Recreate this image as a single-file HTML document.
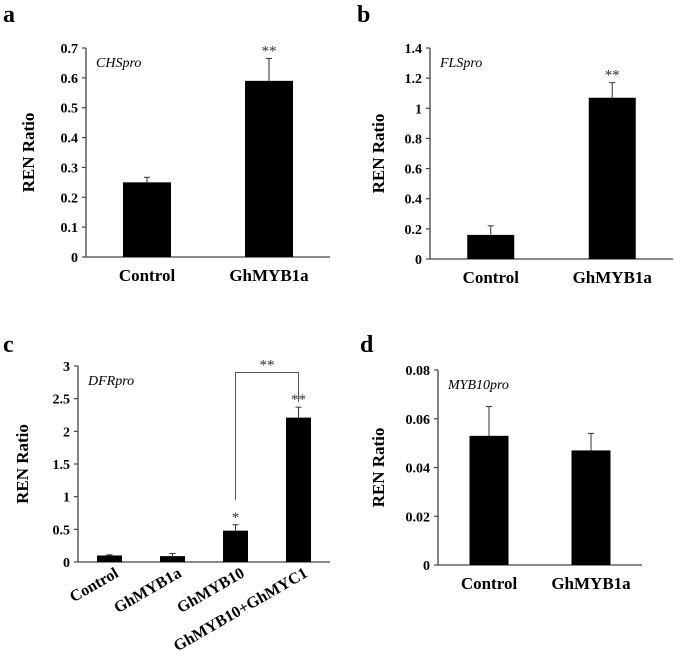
<!DOCTYPE html>
<html><head><meta charset="utf-8"><style>
body{margin:0;background:#fff}
svg, svg text{font-family:"Liberation Serif","Times New Roman",serif}
</style></head><body>
<svg id="fig" width="675" height="664" font-family="Liberation Serif, serif"></svg>
<script>
// Panel a
const catsA=["Control","GhMYB1a"];
const valsA=[0.25,0.59];
const errA=[0.017,0.075];
const ticksA=["0","0.1","0.2","0.3","0.4","0.5","0.6","0.7"];
// Panel b
const catsB=["Control","GhMYB1a"];
const valsB=[0.16,1.07];
const errB=[0.06,0.10];
const ticksB=["0","0.2","0.4","0.6","0.8","1","1.2","1.4"];
// Panel c
const catsC=["Control","GhMYB1a","GhMYB10","GhMYB10+GhMYC1"];
const valsC=[0.1,0.09,0.48,2.21];
const errC=[0.01,0.04,0.09,0.16];
const ticksC=["0","0.5","1","1.5","2","2.5","3"];
// Panel d
const catsD=["Control","GhMYB1a"];
const valsD=[0.053,0.047];
const errD=[0.012,0.007];
const ticksD=["0","0.02","0.04","0.06","0.08"];

const NS="http://www.w3.org/2000/svg";
const svg=document.getElementById('fig');
const FF='"Liberation Serif", serif';
function el(tag,attrs,parent,text){const e=document.createElementNS(NS,tag);for(const k in attrs)e.setAttribute(k,attrs[k]);if(tag==='text'){e.style.fontFamily=FF;}if(text!==undefined)e.textContent=text;(parent||svg).appendChild(e);return e;}

function panel(cfg){
  const g=el('g',{});
  
  
  const max=parseFloat(cfg.ticks[cfg.ticks.length-1]);
  const y=v=>cfg.y0-(v/max)*(cfg.y0-cfg.y1);
  const lt=el('text',{x:cfg.lx,y:cfg.ly,'font-size':24,'font-weight':'bold'},g,cfg.letter);
  
  
  const ya=el('line',{x1:cfg.x0,x2:cfg.x0,y1:cfg.y1,y2:cfg.y0,stroke:'#444','stroke-width':1.3},g);
  
  
  const xa=el('line',{x1:cfg.x0,x2:cfg.x1,y1:cfg.y0,y2:cfg.y0,stroke:'#444','stroke-width':1.3},g);
  
  
  cfg.ticks.forEach(t=>{
    const yy=y(parseFloat(t));
    el('line',{x1:cfg.x0-4,x2:cfg.x0,y1:yy,y2:yy,stroke:'#444','stroke-width':1.2},g);
    const tl=el('text',{x:cfg.x0-8,y:yy+5,'font-size':14,'font-weight':'bold','text-anchor':'end'},g,t);
    
    
  });
  const yt=el('text',{x:0,y:0,'font-size':17,'font-weight':'bold','text-anchor':'middle',transform:`translate(${cfg.tx},${(cfg.y0+cfg.y1)/2}) rotate(-90)`},g,'REN Ratio');
  
  
  const pt=el('text',{x:cfg.x0+10,y:cfg.y1+19,'font-size':14,'font-style':'italic'},g,cfg.promoter);
  
  
  const n=cfg.cats.length, step=(cfg.x1-cfg.x0)/n;
  const centers=[];
  cfg.cats.forEach((c,i)=>{
    const cx=cfg.x0+step*(i+0.5); centers.push(cx);
    const v=cfg.vals[i];
    const b=el('rect',{x:cx-cfg.bw/2,y:y(v),width:cfg.bw,height:cfg.y0-y(v),fill:'#000'},g);
    
    
    const top=y(v+cfg.err[i]);
    el('line',{x1:cx,x2:cx,y1:top,y2:y(v),stroke:'#333','stroke-width':1},g);
    el('line',{x1:cx-3,x2:cx+3,y1:top,y2:top,stroke:'#333','stroke-width':1},g);
    if(cfg.sig&&cfg.sig[i]){
      const s=el('text',{x:cx,y:top-3,'font-size':15,'text-anchor':'middle',fill:'#333'},g,cfg.sig[i]);
      
      
    }
    let lab;
    if(cfg.rot){
      lab=el('text',{x:0,y:0,'font-size':16,'font-weight':'bold','text-anchor':'end',transform:`translate(${cx+10},${cfg.y0+14}) rotate(-30)`},g,c);
    } else {
      lab=el('text',{x:cx,y:cfg.y0+24,'font-size':17,'font-weight':'bold','text-anchor':'middle'},g,c);
    }
    
    
  });
  return {centers,y,g};
}

panel({letter:'a',lx:3,ly:22,x0:86,x1:330,y0:257,y1:48,tx:34,ticks:ticksA,cats:catsA,vals:valsA,err:errA,bw:48,promoter:'CHSpro',sig:['','**']});
panel({letter:'b',lx:357,ly:22,x0:430,x1:673,y0:259,y1:48,tx:384,ticks:ticksB,cats:catsB,vals:valsB,err:errB,bw:47,promoter:'FLSpro',sig:['','**']});
const pc=panel({letter:'c',lx:3,ly:352,x0:78,x1:330,y0:562,y1:366,tx:28,ticks:ticksC,cats:catsC,vals:valsC,err:errC,bw:25,promoter:'DFRpro',sig:['','','*','**'],rot:true});
panel({letter:'d',lx:360,ly:352,x0:438,x1:642,y0:565,y1:370,tx:384,ticks:ticksD,cats:catsD,vals:valsD,err:errD,bw:39,promoter:'MYB10pro'});
const c2=pc.centers[2], c3=pc.centers[3];
const br=el('path',{d:`M${c2} ${pc.y(0.95)} V${pc.y(2.9)} H${c3} V${pc.y(2.45)}`,fill:'none',stroke:'#555','stroke-width':1},pc.g);


const bs=el('text',{x:(c2+c3)/2,y:pc.y(2.9)-3,'font-size':15,'text-anchor':'middle',fill:'#333'},pc.g,'**');


</script>
</body></html>
